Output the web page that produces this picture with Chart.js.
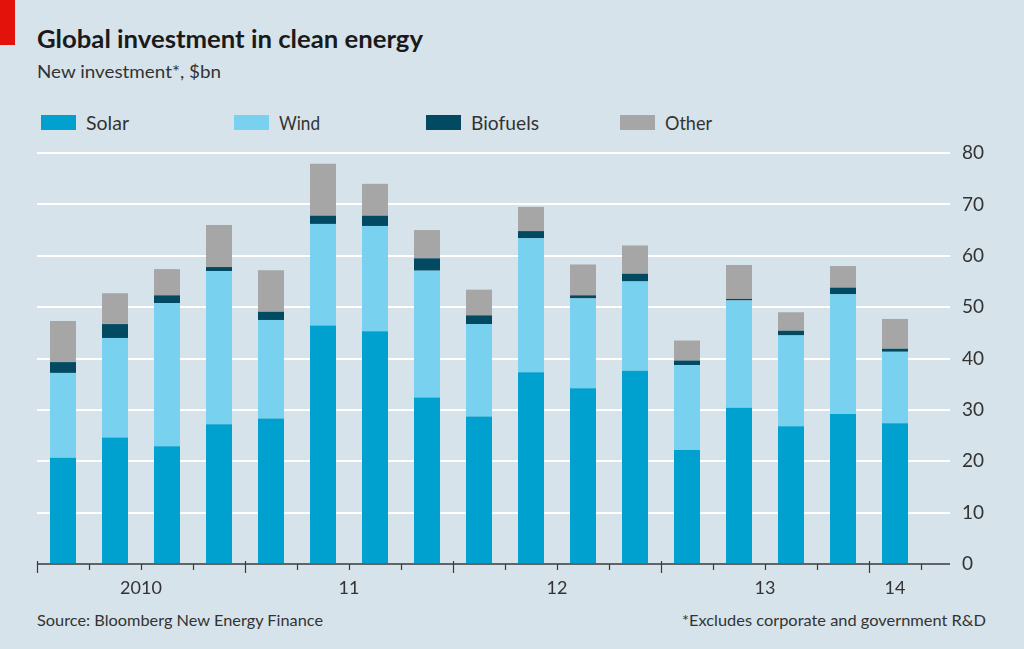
<!DOCTYPE html>
<html>
<head>
<meta charset="utf-8">
<title>Global investment in clean energy</title>
<script src="https://cdn.jsdelivr.net/npm/chart.js@4.4.1/dist/chart.umd.min.js"></script>
<style>
  body {
    margin: 0;
    width: 1024px;
    height: 649px;
    overflow: hidden;
    position: relative;
    background: #d6e3ea;
    font-family: Lato, "Open Sans", sans-serif;
    color: #222;
  }
  .txt { position: absolute; white-space: nowrap; line-height: 1; transform-origin: 0 0; }
  #redTag { position: absolute; left: 0; top: 0; width: 15px; height: 45px; background: #e3120b; }
  #title { left: 37px; top: 26px; font-size: 25px; font-weight: bold; color: #1a1a1a; }
  #subtitle { left: 37px; top: 62px; font-size: 18px; color: #333; }
  .swatch { position: absolute; top: 115px; width: 35px; height: 15px; }
  .legendText { top: 112px; font-size: 20px; color: #333; }
  #source { left: 37px; top: 612px; font-size: 16px; color: #333; }
  #note { left: 682px; top: 612px; font-size: 16px; color: #333; }
  canvas { position: absolute; left: 0; top: 0; }
</style>
</head>
<body>
<div id="redTag"></div>
<div id="title" class="txt" data-w="386">Global investment in clean energy</div>
<div id="subtitle" class="txt" data-w="184">New investment*, $bn</div>
<div id="legend"></div>
<div id="source" class="txt" data-w="286">Source: Bloomberg New Energy Finance</div>
<div id="note" class="txt" data-w="304">*Excludes corporate and government R&amp;D</div>
<canvas id="myChart" width="1024" height="649"></canvas>

<script>
"use strict";

// kvartal 2010 Q1 - 2014 Q1
const quarters = ["2010 Q1", "2010 Q2", "2010 Q3", "2010 Q4",
    "2011 Q1", "2011 Q2", "2011 Q3", "2011 Q4",
    "2012 Q1", "2012 Q2", "2012 Q3", "2012 Q4",
    "2013 Q1", "2013 Q2", "2013 Q3", "2013 Q4",
    "2014 Q1"];

const solar = [20.7, 24.6, 22.9, 27.2, 28.3, 46.4, 45.3, 32.4, 28.7, 37.3, 34.2, 37.6, 22.2, 30.4, 26.8, 29.2, 27.4];
const wind = [16.5, 19.4, 27.9, 29.8, 19.2, 19.8, 20.5, 24.7, 18.0, 26.1, 17.5, 17.4, 16.5, 20.9, 17.7, 23.3, 13.9];
const biofuels = [2.1, 2.7, 1.5, 0.8, 1.6, 1.6, 2.0, 2.4, 1.7, 1.4, 0.6, 1.5, 0.9, 0.3, 0.9, 1.3, 0.6];
const other = [8.0, 6.0, 5.1, 8.2, 8.1, 10.1, 6.2, 5.5, 5.0, 4.7, 6.0, 5.5, 3.9, 6.6, 3.6, 4.2, 5.8];

const yearLabels = ["2010", "11", "12", "13", "14"];
const yearStarts = [0, 4, 8, 12, 16];

const seriesNames = ["Solar", "Wind", "Biofuels", "Other"];
const seriesColors = ["#00a1cf", "#78d1ef", "#024a62", "#a6a6a6"];
const legendX = [41, 234, 426, 620];
const legendTextW = [43, 41, 68, 47];

const tickFont = "Lato, 'Open Sans', sans-serif";

document.addEventListener("DOMContentLoaded", () => {
    buildLegend();
    fitTexts();
    drawChart();
});

function buildLegend() {
    const legend = document.getElementById("legend");
    seriesNames.forEach((name, i) => {
        const box = document.createElement("div");
        box.className = "swatch";
        box.style.left = legendX[i] + "px";
        box.style.background = seriesColors[i];
        legend.appendChild(box);

        const label = document.createElement("div");
        label.className = "txt legendText";
        label.style.left = (legendX[i] + 45) + "px";
        label.dataset.w = legendTextW[i];
        label.textContent = name;
        legend.appendChild(label);
    });
}

// trycker ihop texten så att bredden stämmer med förlagan (smal typsnitt saknas)
function fitTexts() {
    document.querySelectorAll(".txt").forEach(el => {
        const target = Number(el.dataset.w);
        const w = el.getBoundingClientRect().width;
        if (target && w) {
            el.style.transform = `scaleX(${target / w})`;
        }
    });
}

// x-axeln ritas för hand: linje, streck och årsetiketter
const xAxisPlugin = {
    id: "xAxisPlugin",
    afterDraw(chart) {
        const ctx = chart.ctx;
        const x = chart.scales.x;
        const area = chart.chartArea;
        const y0 = chart.scales.y.getPixelForValue(0);
        const half = (x.getPixelForValue(1) - x.getPixelForValue(0)) / 2;

        ctx.save();
        ctx.strokeStyle = "#3a3a3a";
        ctx.lineWidth = 1.5;
        ctx.beginPath();
        ctx.moveTo(area.left, y0);
        ctx.lineTo(area.right + 29, y0);
        ctx.stroke();

        ctx.lineWidth = 1.2;
        for (let i = 0; i <= quarters.length; i++) {
            const px = Math.round(x.getPixelForValue(0) - half + i * half * 2) + 0.5;
            const major = yearStarts.includes(i);
            ctx.beginPath();
            ctx.moveTo(px, major ? y0 - 3 : y0);
            ctx.lineTo(px, major ? y0 + 9 : y0 + 6);
            ctx.stroke();
        }

        ctx.fillStyle = "#333";
        ctx.font = "18px " + tickFont;
        ctx.textAlign = "center";
        ctx.textBaseline = "alphabetic";
        yearLabels.forEach((label, k) => {
            const start = yearStarts[k];
            const end = k + 1 < yearStarts.length ? yearStarts[k + 1] : quarters.length;
            const cx = (x.getPixelForValue(start) + x.getPixelForValue(end - 1)) / 2;
            ctx.fillText(label, cx, y0 + 30);
        });
        ctx.restore();
    }
};

function drawChart() {
    const chartDiv = document.getElementById("myChart");
    const datasets = [solar, wind, biofuels, other].map((values, i) => ({
        label: seriesNames[i],
        data: values,
        backgroundColor: seriesColors[i],
        borderWidth: 0,
        categoryPercentage: 1,
        barPercentage: 0.5
    }));

    new Chart(chartDiv, {
        type: "bar",
        data: {
            labels: quarters,
            datasets: datasets
        },
        options: {
            responsive: false,
            animation: false,
            layout: {
                padding: { left: 37, top: 153, right: 0, bottom: 85 }
            },
            plugins: {
                legend: { display: false },
                tooltip: { enabled: false }
            },
            scales: {
                x: {
                    stacked: true,
                    display: false
                },
                y: {
                    stacked: true,
                    position: "right",
                    min: 0,
                    max: 80,
                    afterFit(scale) {
                        scale.width = 103;
                    },
                    border: { display: false },
                    grid: {
                        drawTicks: true,
                        tickLength: 29,
                        lineWidth: 2,
                        color: (c) => c.tick && c.tick.value === 0 ? "rgba(0,0,0,0)" : "#ffffff"
                    },
                    ticks: {
                        stepSize: 10,
                        padding: 12,
                        color: "#333",
                        font: { family: tickFont, size: 19 }
                    }
                }
            }
        },
        plugins: [xAxisPlugin]
    });
}
</script>
</body>
</html>
